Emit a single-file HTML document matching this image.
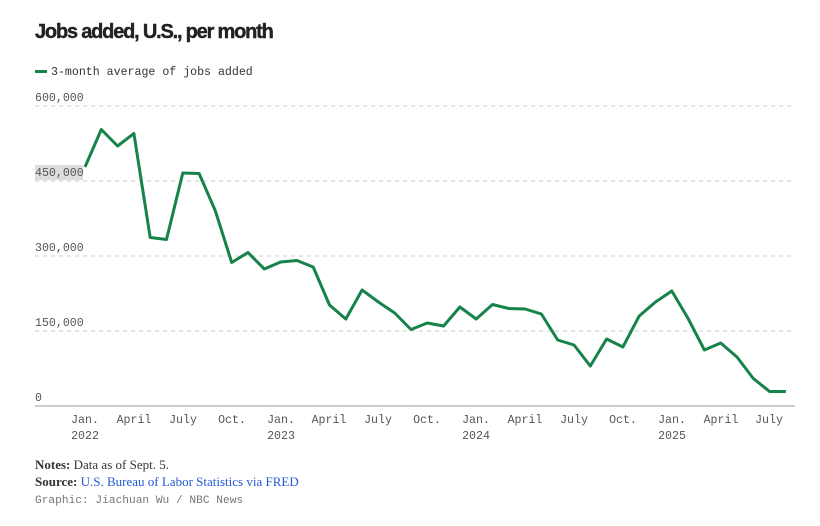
<!DOCTYPE html>
<html><head><meta charset="utf-8"><style>
body{margin:0;background:#fff;width:820px;height:526px;overflow:hidden}
svg{display:block}
.m{font-family:"Liberation Mono",monospace;font-size:11.6px;fill:#555}
.s{font-family:"Liberation Serif",serif;font-size:13px}
</style></head><body>
<svg width="820" height="526" xmlns="http://www.w3.org/2000/svg">
<text x="35" y="38" font-family="Liberation Sans,sans-serif" font-weight="bold" font-size="20" fill="#222" letter-spacing="-1.2" stroke="#222" stroke-width="0.4">Jobs added, U.S., per month</text>
<rect x="35" y="70" width="12" height="3" fill="#16834b"/>
<text x="51" y="75" class="m" style="fill:#333">3-month average of jobs added</text>
<g stroke="#ccc" stroke-dasharray="4,4" stroke-width="1">
<line x1="35" y1="106" x2="795" y2="106"/><line x1="35" y1="181" x2="795" y2="181"/>
<line x1="35" y1="256" x2="795" y2="256"/><line x1="35" y1="331" x2="795" y2="331"/>
</g>
<line x1="35" y1="406" x2="795" y2="406" stroke="#999"/>
<rect x="35" y="165" width="48" height="15" fill="#ddd"/>
<text class="m" x="35" y="101">600,000</text>
<text class="m" x="35" y="176">450,000</text>
<text class="m" x="35" y="251">300,000</text>
<text class="m" x="35" y="326">150,000</text>
<text class="m" x="35" y="401">0</text>
<g class="m" text-anchor="middle">
<text x="85" y="423">Jan.</text><text x="85" y="439">2022</text>
<text x="134" y="423">April</text><text x="183" y="423">July</text><text x="232" y="423">Oct.</text>
<text x="281" y="423">Jan.</text><text x="281" y="439">2023</text>
<text x="329" y="423">April</text><text x="378" y="423">July</text><text x="427" y="423">Oct.</text>
<text x="476" y="423">Jan.</text><text x="476" y="439">2024</text>
<text x="525" y="423">April</text><text x="574" y="423">July</text><text x="623" y="423">Oct.</text>
<text x="672" y="423">Jan.</text><text x="672" y="439">2025</text>
<text x="721" y="423">April</text><text x="769" y="423">July</text>
</g>
<polyline fill="none" stroke="#16834b" stroke-width="3" stroke-linejoin="round" points="85,167 101.3,129.5 117.6,146 133.9,133.5 150.2,237.5 166.5,239.5 182.8,173 199.1,173.5 215.4,211 231.7,262.5 248,252.5 264.3,269 280.6,262 296.9,260.5 313.2,267 329.5,305 345.8,319 362.1,290 378.4,302 394.7,313 411,329.5 427.3,323 443.6,326 459.9,307 476.2,319 492.5,304.5 508.8,308.5 525.1,309 541.4,314 557.7,340 574,345 590.3,366 606.6,339 622.9,347 639.2,316 655.5,302 671.8,291 688.1,318.5 704.4,350 720.7,343 737,357 753.3,378.5 769.6,391.5 785.9,391.5"/>
<text class="s" x="35" y="469" fill="#333"><tspan font-weight="bold">Notes:</tspan> Data as of Sept. 5.</text>
<text class="s" x="35" y="486" fill="#333"><tspan font-weight="bold">Source:</tspan> <tspan fill="#2458d6">U.S. Bureau of Labor Statistics via FRED</tspan></text>
<text class="m" x="35" y="503" style="fill:#777;font-size:11.2px">Graphic: Jiachuan Wu / NBC News</text>
</svg>
</body></html>
